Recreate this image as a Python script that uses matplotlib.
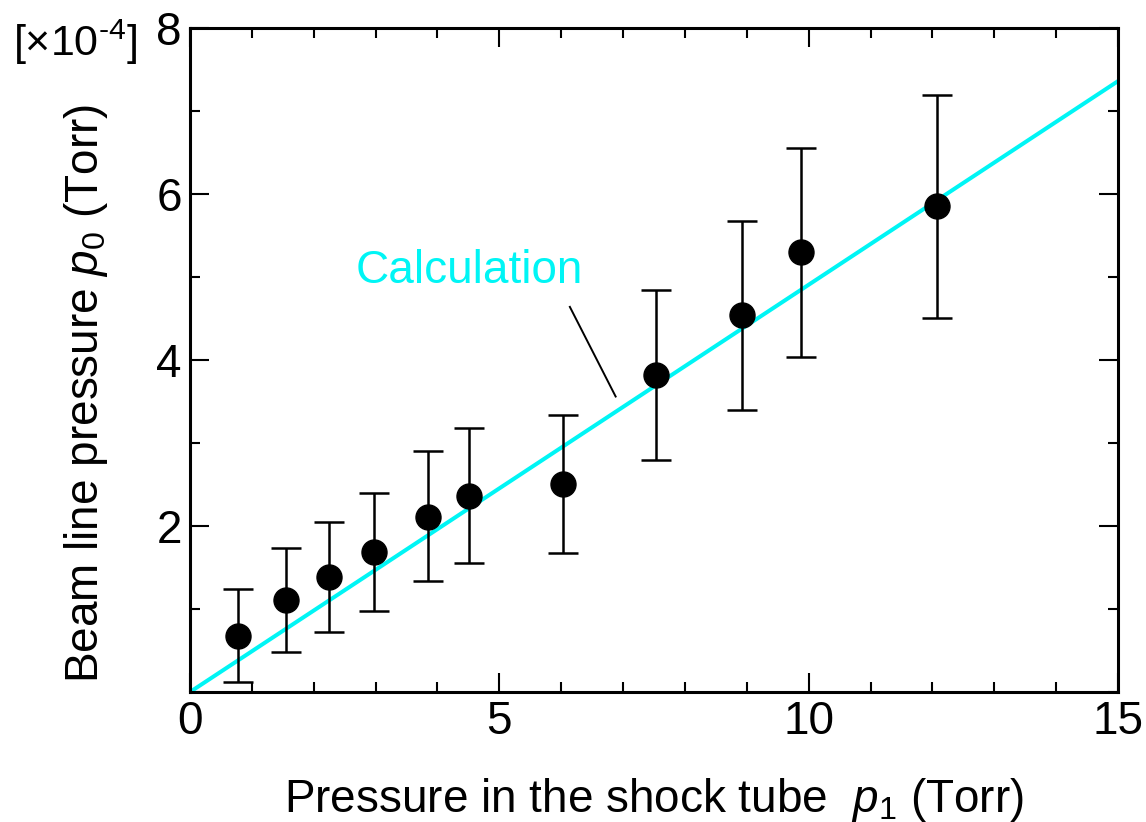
import matplotlib
matplotlib.use("Agg")
import matplotlib.pyplot as plt
import numpy as np

# Data (p1 in Torr, p0 in units of 1e-4 Torr)
p1 = [0.78, 1.55, 2.24, 2.98, 3.85, 4.51, 6.03, 7.54, 8.92, 9.87, 12.07]
p0 = [0.68, 1.11, 1.39, 1.69, 2.11, 2.36, 2.51, 3.82, 4.54, 5.30, 5.85]
err_hi = [1.24, 1.73, 2.05, 2.40, 2.90, 3.18, 3.34, 4.84, 5.68, 6.56, 7.19]
err_lo = [0.12, 0.48, 0.72, 0.98, 1.34, 1.55, 1.67, 2.79, 3.40, 4.04, 4.51]
calc_x = [0.0, 15.0]
calc_y = [0.0, 7.36]

x_ticks = [0, 5, 10, 15]
y_ticks = [2, 4, 6, 8]

plt.rcParams['font.family'] = ['Liberation Sans', 'DejaVu Sans']
plt.rcParams['mathtext.fontset'] = 'custom'
plt.rcParams['mathtext.rm'] = 'Liberation Sans'
plt.rcParams['mathtext.it'] = 'Liberation Sans:italic'

CYAN = '#00f5f5'
FS = 33

fig = plt.figure(figsize=(11.46, 8.22), dpi=100)
ax = fig.add_axes([190/1146, 1-692/822, (1118-190)/1146, (692-28)/822])

ax.plot(calc_x, calc_y, color=CYAN, lw=2.9, zorder=2, solid_capstyle='butt')

yerr = [np.array(p0) - np.array(err_lo), np.array(err_hi) - np.array(p0)]
ax.errorbar(p1, p0, yerr=yerr, fmt='o', color='black', ms=18, elinewidth=1.8,
            capsize=11, capthick=1.8, zorder=3)

ax.text(4.52, 5.07, 'Calculation', color=CYAN, fontsize=FS, ha='center', va='center', zorder=4)
ax.plot([6.14, 6.88], [4.64, 3.56], color='black', lw=1.4, zorder=4)

ax.set_xlim(0, 15)
ax.set_ylim(0, 8)
ax.set_xticks(x_ticks)
ax.set_yticks(y_ticks)
ax.set_xticks(np.arange(0, 16, 1), minor=True)
ax.set_yticks(np.arange(0, 9, 1), minor=True)
ax.tick_params(which='both', direction='in', top=True, right=True, width=1.5,
               labelsize=FS)
ax.tick_params(which='major', length=14, pad=6)
ax.tick_params(which='minor', length=7)
for s in ax.spines.values():
    s.set_linewidth(2.2)

ax.set_xlabel(r'Pressure in the shock tube  $\it{p}_1$ (Torr)', fontsize=FS)
ax.set_ylabel(r'Beam line pressure $\it{p}_0$ (Torr)', fontsize=FS)
ax.xaxis.set_label_coords(0.5, (692-776)/664)
ax.yaxis.set_label_coords((110-190)/928, (692-393)/664)

fig.text(13/1146, 1-42/822, r'[$\times$10$^{\text{-}4}$]', fontsize=31,
         ha='left', va='center')

fig.savefig('out.png', dpi=100)
